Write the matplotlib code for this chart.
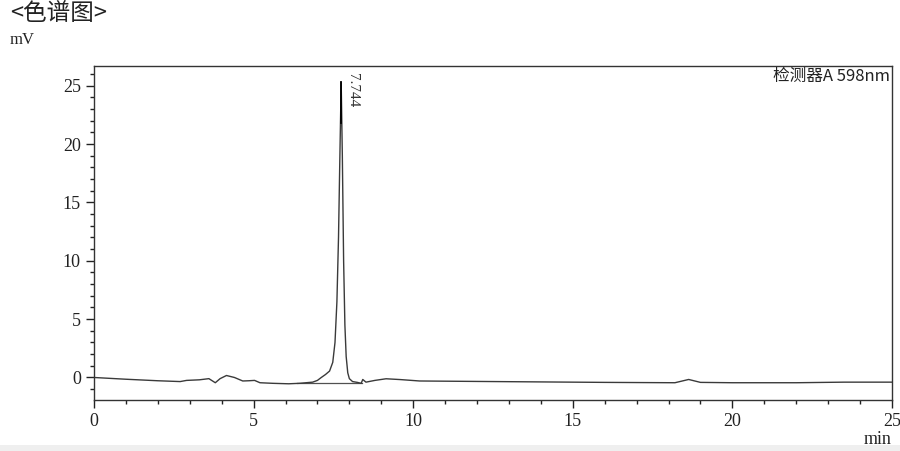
import matplotlib.pyplot as plt
from matplotlib.patches import Rectangle
from matplotlib.ticker import MultipleLocator

# chromatogram points (time in min, signal in mV)
times = [0.0, 1.0, 2.0, 2.7, 2.9, 3.3, 3.6, 3.8, 3.95, 4.15, 4.4, 4.66, 4.85,
         5.03, 5.2, 5.6, 6.1, 6.44, 6.85, 7.0, 7.12, 7.25, 7.38, 7.48, 7.55,
         7.61, 7.66, 7.70, 7.744, 7.78, 7.82, 7.86, 7.90, 7.95, 8.0, 8.1, 8.25,
         8.37, 8.42, 8.52, 8.8, 9.15, 9.6, 10.2, 12.06, 14.0, 16.0, 18.2,
         18.63, 19.0, 20.0, 22.0, 23.5, 25.0]
signal = [0.0, -0.15, -0.28, -0.35, -0.25, -0.2, -0.1, -0.45, -0.1, 0.17,
          0.0, -0.3, -0.28, -0.25, -0.45, -0.5, -0.54, -0.5, -0.4, -0.25, 0.0,
          0.25, 0.55, 1.3, 3.0, 6.5, 12.0, 18.5, 25.3, 19.0, 10.0, 4.5, 1.8,
          0.4, -0.1, -0.35, -0.42, -0.5, -0.17, -0.4, -0.25, -0.11, -0.18,
          -0.3, -0.34, -0.38, -0.42, -0.45, -0.17, -0.42, -0.45, -0.45, -0.4,
          -0.4]

peak_time = 7.744
peak_height = 25.3
peak_label = "7.744"
base_t = [6.35, 8.4]
base_y = [-0.46, -0.46]

x_ticks = [0, 5, 10, 15, 20, 25]
y_ticks = [0, 5, 10, 15, 20, 25]

serif = ['Liberation Serif', 'Noto Sans CJK SC']
cjk = ['Noto Sans CJK SC', 'Liberation Serif']

fig = plt.figure(figsize=(9, 4.51), dpi=100)
ax = fig.add_axes([94 / 900, 51 / 451, 798 / 900, 334 / 451])

ax.plot(base_t, base_y, color='#505050', linewidth=0.9)
ax.plot(times, signal, color='#3a3a3a', linewidth=1.0)
ax.plot([peak_time, peak_time], [peak_height - 3.5, peak_height], color='black', linewidth=1.3)
ax.text(peak_time + 0.14, peak_height + 0.8, peak_label, rotation=-90, ha='left', va='top',
        fontsize=11, family=serif, color='#333333')

ax.set_xlim(0, 25)
ax.set_ylim(-1.93, 26.7)
ax.set_xticks(x_ticks)
ax.set_yticks(y_ticks)
ax.xaxis.set_minor_locator(MultipleLocator(1))
ax.yaxis.set_minor_locator(MultipleLocator(1))
ax.tick_params(which='major', direction='out', length=6, width=1, labelsize=13, colors='#222222')
ax.tick_params(which='minor', direction='out', length=3, width=1, colors='#222222')
for lab in ax.get_xticklabels() + ax.get_yticklabels():
    lab.set_family(serif)
for s in ax.spines.values():
    s.set_linewidth(1.0)
    s.set_color('#333333')

ax.text(0.998, 0.995, "检测器A 598nm", transform=ax.transAxes, ha='right', va='top',
        fontsize=12, family=cjk, color='#222222')

fig.text(10 / 900, 1 - 14 / 451, "<色谱图>", ha='left', va='center', fontsize=17,
         family=cjk, color='#222222')
fig.text(10 / 900, 1 - 40 / 451, "mV", ha='left', va='center', fontsize=12,
         family=serif, color='#222222')
fig.text(892 / 900, 1 - 439 / 451, "min", ha='right', va='center', fontsize=13,
         family=serif, color='#222222')

# light grey strip at the very bottom
fig.patches.append(Rectangle((0, 0), 1, 6 / 451, transform=fig.transFigure,
                             facecolor='#efefef', edgecolor='none'))

fig.savefig("out.png", dpi=100)
